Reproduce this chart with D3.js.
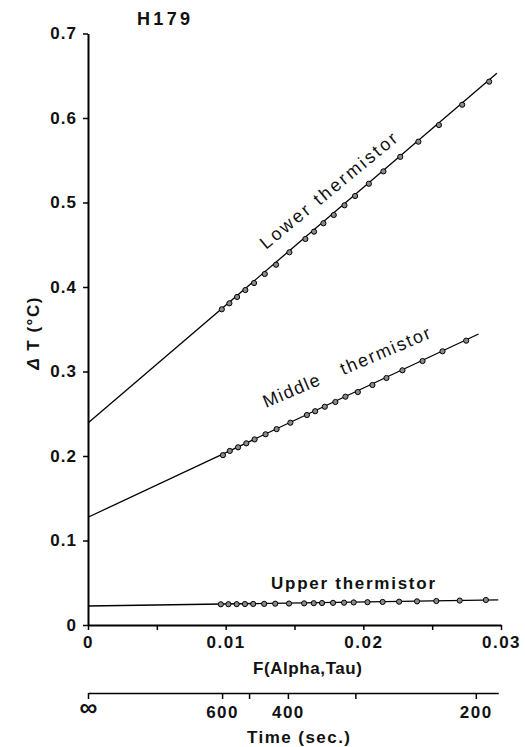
<!DOCTYPE html>
<html lang="en">
<head>
  <meta charset="UTF-8">
  <title>H179 thermistor fits</title>
  <script src="https://d3js.org/d3.v7.min.js"></script>
  <style>
    body {
      margin: 0;
      background: #fff;
    }
    svg {
      display: block;
      font-family: "Liberation Sans", Arial, sans-serif;
    }
    .axis path, .axis line {
      stroke: #000;
    }
    .axis text {
      font-family: "Liberation Sans", Arial, sans-serif;
      font-size: 17px;
      font-weight: bold;
      fill: #111;
    }
    .fit {
      fill: none;
      stroke: #000;
      stroke-width: 1.3;
    }
    .dot {
      fill: #8a8a8a;
      stroke: #000;
      stroke-width: 1;
    }
    .label {
      fill: #111;
    }
  </style>
</head>
<body>
  <svg width="525" height="747"></svg>

  <script>
    // lower thermistor points (F, dT)
    const lowerF = [0.00972, 0.01027, 0.01083, 0.01143, 0.01206, 0.01284, 0.01366, 0.01463, 0.01579, 0.01642,
      0.01710, 0.01785, 0.01863, 0.01940, 0.02040, 0.02146, 0.02268, 0.02400, 0.02549, 0.02718, 0.02914];
    const lowerT = [0.3736, 0.3807, 0.3882, 0.3964, 0.4047, 0.4154, 0.4264, 0.4411, 0.4568, 0.4655,
      0.4754, 0.4852, 0.4967, 0.5077, 0.5222, 0.5368, 0.5540, 0.5720, 0.5917, 0.6157, 0.6430];

    // middle thermistor points
    const middleF = [0.0098, 0.0103, 0.0109, 0.0115, 0.0121, 0.0129, 0.0137, 0.0147, 0.0159, 0.0165,
      0.0172, 0.01797, 0.0187, 0.0196, 0.02066, 0.02168, 0.02284, 0.0243, 0.02575, 0.02747];
    const middleT = [0.2010, 0.2060, 0.2103, 0.2150, 0.2196, 0.2257, 0.2318, 0.2394, 0.2485, 0.2530,
      0.2583, 0.2639, 0.2702, 0.2757, 0.2840, 0.2923, 0.3014, 0.3124, 0.3239, 0.3365];

    // upper thermistor points
    const upperF = [0.00965, 0.0102, 0.0108, 0.0114, 0.0120, 0.0128, 0.0136, 0.0146, 0.0157, 0.0164,
      0.0170, 0.0178, 0.0186, 0.0193, 0.0203, 0.0214, 0.0226, 0.0239, 0.0253, 0.0270, 0.0289];
    const upperT = [0.0245, 0.0246, 0.0247, 0.0248, 0.0249, 0.0250, 0.0252, 0.0254, 0.0256, 0.0258,
      0.0260, 0.0262, 0.0264, 0.0267, 0.0270, 0.0273, 0.0276, 0.0280, 0.0284, 0.0289, 0.0296];

    // fitted straight lines, end points [F, dT]
    const lowerFit = [[0, 0.239], [0.0297, 0.653]];
    const middleFit = [[0, 0.1275], [0.02837, 0.3444]];
    const upperFit = [[0, 0.0225], [0.0298, 0.0297]];

    const yTicks = [0, 0.1, 0.2, 0.3, 0.4, 0.5, 0.6, 0.7];
    const xTicks = [0, 0.005, 0.01, 0.015, 0.02, 0.025, 0.03];
    const xLabeled = [0, 0.01, 0.02, 0.03];

    // time axis: label and the F value where each tick sits
    const timeLabels = ['\u221E', '600', '', '400', '', '200'];
    const timeTickF = [0, 0.00974, 0.0117, 0.01452, 0.01942, 0.02817];

    const svg = d3.select('svg');

    const x = d3.scaleLinear().domain([0, 0.03]).range([88, 501]);
    const y = d3.scaleLinear().domain([0, 0.7]).range([625, 33.5]);

    // y axis
    svg.append('g')
      .attr('class', 'axis')
      .attr('transform', `translate(${x(0)},0)`)
      .call(d3.axisLeft(y)
        .tickValues(yTicks)
        .tickSize(5)
        .tickSizeOuter(0)
        .tickPadding(6)
        .tickFormat(d => d === 0 ? '0' : d3.format('.1f')(d)))
      .call(g => g.select('.domain').attr('stroke-width', 2))
      .call(g => g.selectAll('.tick line').attr('stroke-width', 1.5))
      .call(g => g.selectAll('.tick text').attr('letter-spacing', 1));

    // x axis
    svg.append('g')
      .attr('class', 'axis')
      .attr('transform', `translate(0,${y(0)})`)
      .call(d3.axisBottom(x)
        .tickValues(xTicks)
        .tickSize(5)
        .tickSizeOuter(0)
        .tickPadding(6)
        .tickFormat(d => xLabeled.some(v => Math.abs(v - d) < 1e-9) ? (d === 0 ? '0' : d3.format('.2f')(d)) : ''))
      .call(g => g.select('.domain').attr('stroke-width', 2))
      .call(g => g.selectAll('.tick line').attr('stroke-width', 1.5))
      .call(g => g.selectAll('.tick text').attr('letter-spacing', 1.5));

    // time axis below, shares the F scale
    const tScale = x.copy().domain([0, 0.0298]).range([x(0), x(0.0298)]);
    const timeAxis = svg.append('g')
      .attr('class', 'axis')
      .attr('transform', 'translate(0,693)')
      .call(d3.axisBottom(tScale)
        .tickValues(timeTickF)
        .tickSize(6)
        .tickSizeOuter(0)
        .tickPadding(7)
        .tickFormat((d, i) => timeLabels[i]))
      .call(g => g.select('.domain').attr('stroke-width', 1.5))
      .call(g => g.selectAll('.tick line').attr('stroke-width', 1.5))
      .call(g => g.selectAll('.tick text').attr('letter-spacing', 1.5));
    timeAxis.selectAll('.tick text')
      .filter((d, i) => i === 0)
      .style('font-size', '25px')
      .attr('letter-spacing', 0)
      .attr('dy', '0.4em');

    // fitted lines
    const line = d3.line()
      .x(d => x(d[0]))
      .y(d => y(d[1]));

    svg.selectAll('.fit')
      .data([lowerFit, middleFit, upperFit])
      .enter()
      .append('path')
      .attr('class', 'fit')
      .attr('d', line);

    // data points
    const series = [
      [lowerF, lowerT],
      [middleF, middleT],
      [upperF, upperT]
    ];
    series.forEach(([fs, ts]) => {
      svg.append('g')
        .selectAll('circle')
        .data(fs.map((f, i) => [f, ts[i]]))
        .enter()
        .append('circle')
        .attr('class', 'dot')
        .attr('cx', d => x(d[0]))
        .attr('cy', d => y(d[1]))
        .attr('r', 2.6);
    });

    // text helper, sizes go through style so the css does not win
    function label(parent, txt, size, weight, len) {
      const t = parent.append('text')
        .attr('class', 'label')
        .style('font-size', size + 'px')
        .style('font-weight', weight)
        .text(txt);
      if (len) t.attr('textLength', len);
      return t;
    }

    // series labels
    label(svg, 'Lower thermistor', 18, 'normal', 172)
      .attr('transform', 'translate(266,250) rotate(-39.5)');

    const mid = svg.append('g')
      .attr('transform', 'translate(266,408) rotate(-23)');
    label(mid, 'Middle', 18, 'normal', 60);
    label(mid, 'thermistor', 18, 'normal', 96).attr('x', 84);

    label(svg, 'Upper thermistor', 17, 'bold', 164)
      .attr('x', 271)
      .attr('y', 589);

    // titles
    label(svg, 'H179', 18, 'bold', 53)
      .attr('x', 137)
      .attr('y', 25);

    label(svg, 'F(Alpha,Tau)', 17, 'bold', 109)
      .attr('x', 253)
      .attr('y', 674);

    label(svg, 'Time (sec.)', 17, 'bold', 103)
      .attr('x', 247)
      .attr('y', 743);

    label(svg, '', 17, 'bold')
      .attr('transform', 'translate(39,333) rotate(-90)')
      .attr('text-anchor', 'middle')
      .attr('letter-spacing', 1.5)
      .html('<tspan font-style="italic">\u0394</tspan> T (\u00B0C)');
  </script>
</body>
</html>
